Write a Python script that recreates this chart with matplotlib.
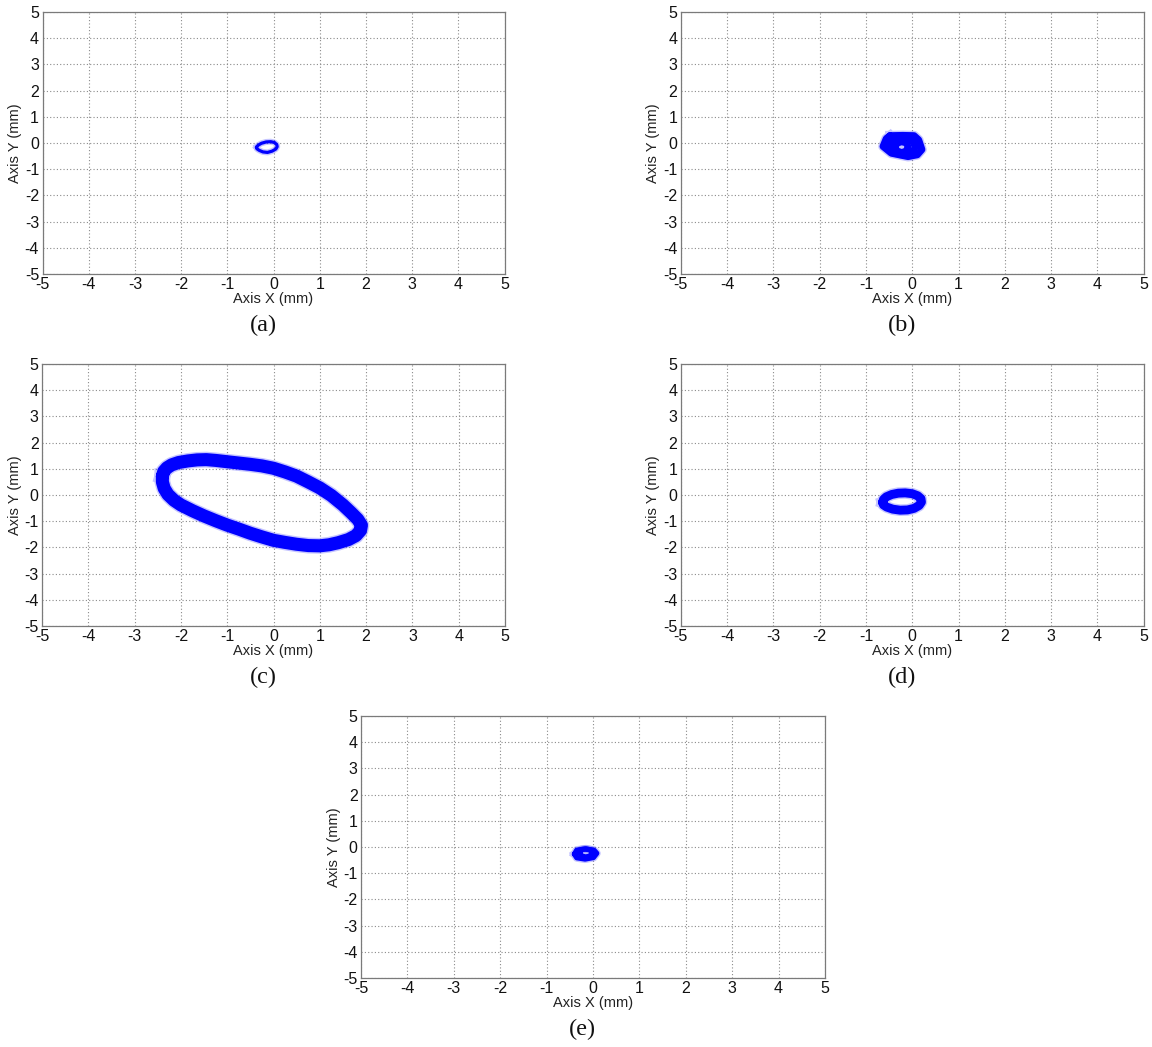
import matplotlib
matplotlib.use("Agg")
import matplotlib.pyplot as plt

plt.rcParams["font.family"] = ["Liberation Sans", "DejaVu Sans"]
plt.rcParams["axes.unicode_minus"] = False

# Orbit traces (x, y in mm) for each case; each loop is a closed path
a_x = [-0.37, -0.33, -0.26, -0.16, -0.06, 0.02, 0.07, 0.08, 0.05, -0.03,
       -0.13, -0.23, -0.31, -0.36]
a_y = [-0.16, -0.08, -0.01, 0.04, 0.05, 0.02, -0.06, -0.14, -0.23, -0.31,
       -0.36, -0.34, -0.28, -0.22]

b1_x = [-0.48, -0.20, 0.04, 0.14, 0.21, 0.11, -0.09, -0.45, -0.63, -0.56]
b1_y = [0.28, 0.29, 0.28, 0.12, -0.25, -0.45, -0.52, -0.39, -0.13, 0.17]
b2_x = [-0.51, -0.44, -0.22, 0.00, 0.07, 0.02, -0.22, -0.44]
b2_y = [-0.14, 0.06, 0.13, 0.08, -0.14, -0.34, -0.41, -0.32]
b3_x = [-0.37, -0.33, -0.23, -0.12, -0.09, -0.13, -0.23, -0.33]
b3_y = [-0.16, -0.01, 0.05, 0.00, -0.16, -0.31, -0.37, -0.30]

c_x = [-2.40, -2.37, -2.30, -2.20, -2.05, -1.85, -1.65, -1.45, -1.25, -1.00,
       -0.75, -0.50, -0.25, 0.00, 0.25, 0.50, 0.75, 1.00, 1.25, 1.50,
       1.68, 1.82, 1.90, 1.88, 1.78, 1.62, 1.40, 1.20, 1.00, 0.75,
       0.50, 0.25, 0.00, -0.25, -0.50, -0.75, -1.00, -1.25, -1.50, -1.75,
       -2.00, -2.15, -2.28, -2.36, -2.40]
c_y = [0.72, 0.90, 1.04, 1.15, 1.24, 1.30, 1.34, 1.35, 1.32, 1.27,
       1.22, 1.17, 1.11, 1.02, 0.88, 0.72, 0.50, 0.27, -0.02, -0.38,
       -0.68, -0.93, -1.15, -1.35, -1.55, -1.70, -1.82, -1.90, -1.94, -1.93,
       -1.88, -1.81, -1.73, -1.60, -1.46, -1.30, -1.15, -0.98, -0.80, -0.60,
       -0.38, -0.20, 0.02, 0.25, 0.50]

d_x = [-0.64, -0.62, -0.56, -0.44, -0.30, -0.15, 0.00, 0.12, 0.19, 0.20,
       0.15, 0.04, -0.10, -0.26, -0.42, -0.55, -0.62]
d_y = [-0.28, -0.17, -0.07, 0.02, 0.07, 0.08, 0.05, -0.03, -0.14, -0.27,
       -0.40, -0.51, -0.57, -0.58, -0.54, -0.46, -0.38]

e1_x = [-0.40, -0.35, -0.18, 0.02, 0.08, 0.01, -0.17, -0.35]
e1_y = [-0.27, -0.12, -0.08, -0.12, -0.24, -0.40, -0.46, -0.41]
e2_x = [-0.28, -0.25, -0.15, -0.05, -0.03, -0.06, -0.16, -0.25]
e2_y = [-0.23, -0.10, -0.07, -0.11, -0.23, -0.35, -0.38, -0.34]

ticks = [-5, -4, -3, -2, -1, 0, 1, 2, 3, 4, 5]
panel_labels = ["(a)", "(b)", "(c)", "(d)", "(e)"]

W, H = 1152, 1047
fig = plt.figure(figsize=(W / 100, H / 100), dpi=100)

# axes boxes in pixels: left, top, width, height
boxes = [(42.5, 12, 462, 262), (680.7, 12, 463, 262),
         (42, 364, 463, 262), (680.7, 364, 463, 262),
         (361, 716, 464, 262)]

# loops per panel with line widths (points)
panels = [
    [((a_x, a_y), 2.3)],
    [((b1_x, b1_y), 5.0), ((b2_x, b2_y), 5.0), ((b3_x, b3_y), 5.0)],
    [((c_x, c_y), 9.4)],
    [((d_x, d_y), 6.4)],
    [((e1_x, e1_y), 3.8), ((e2_x, e2_y), 3.8)],
]

for box, loops, lab in zip(boxes, panels, panel_labels):
    l, t, w, h = box
    ax = fig.add_axes([l / W, 1 - (t + h) / H, w / W, h / H])
    for (xs, ys), lw in loops:
        px = list(xs) + [xs[0]]
        py = list(ys) + [ys[0]]
        ax.plot(px, py, color=(0.35, 0.35, 1.0), lw=lw + 2.0, alpha=0.35,
                solid_joinstyle="round", zorder=3)
        ax.plot(px, py, color="#0000ff", lw=lw, solid_joinstyle="round",
                solid_capstyle="round", zorder=4)
    ax.set_xlim(-5, 5)
    ax.set_ylim(-5, 5)
    ax.set_xticks(ticks)
    ax.set_yticks(ticks)
    ax.grid(True, color="#8a8a8a", linestyle=(0, (1, 2)), linewidth=0.8)
    ax.set_axisbelow(True)
    for s in ax.spines.values():
        s.set_color("#7a7a7a")
        s.set_linewidth(0.9)
    ax.tick_params(direction="in", length=0, labelsize=11.5, pad=2.5,
                   colors="#111111", top=False, right=False)
    ax.set_xlabel("Axis X (mm)", fontsize=10.5, color="#222222")
    ax.set_ylabel("Axis Y (mm)", fontsize=10.5, color="#222222")
    ax.xaxis.set_label_coords(0.5, -0.068)
    ax.yaxis.set_label_coords(-0.044, 0.5)
    ax.text(0.478, -0.198, lab, transform=ax.transAxes, ha="center",
            va="center", fontsize=17.5, family="Liberation Serif",
            color="#111111")

fig.savefig("out.png", dpi=100, facecolor="white")
